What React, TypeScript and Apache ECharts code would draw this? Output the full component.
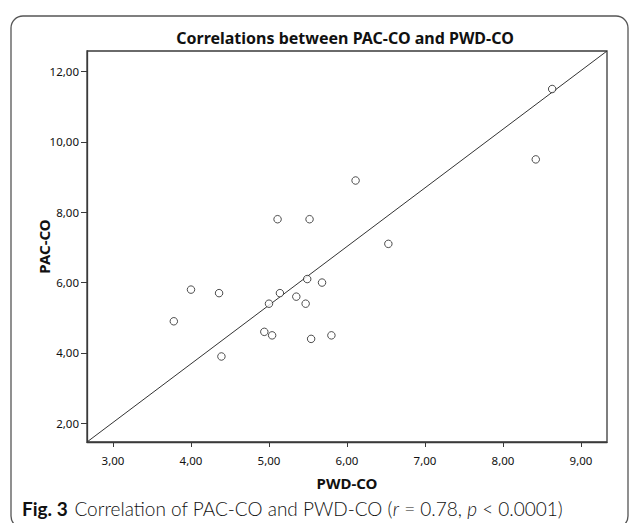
import React, { useEffect, useRef } from "react";
import * as echarts from "echarts";

const pwdCo = [5.11, 5.52, 6.53, 5.49, 5.68, 4.0, 4.36, 5.14, 5.35, 5.0, 5.47, 3.78, 4.94, 5.04, 5.54, 5.8, 4.39, 8.63, 8.42, 6.11];
const pacCo = [7.8, 7.8, 7.1, 6.1, 6.0, 5.8, 5.7, 5.7, 5.6, 5.4, 5.4, 4.9, 4.6, 4.5, 4.4, 4.5, 3.9, 11.5, 9.5, 8.9];
const xTicks = [3, 4, 5, 6, 7, 8, 9];
const yTicks = [2, 4, 6, 8, 10, 12];
const xRange = [2.667, 9.333];
const yRange = [1.47, 12.58];

const fmt = (v: number) => v.toFixed(2).replace(".", ",");

export default function App() {
  const ref = useRef<HTMLDivElement>(null);
  useEffect(() => {
    document.body.style.margin = "0";
    const chart = echarts.init(ref.current!, null, { renderer: "svg" });
    const points = pwdCo.map((x, i) => [x, pacCo[i]]);
    chart.setOption({
      animation: false,
      backgroundColor: "#fff",
      grid: {
        left: 87,
        right: 25,
        top: 51,
        bottom: 81,
        show: true,
        borderColor: "#3a3a3a",
        borderWidth: 1.3,
        backgroundColor: "#fff",
      },
      xAxis: {
        type: "value",
        min: xRange[0],
        max: xRange[1],
        name: "PWD-CO",
        nameLocation: "middle",
        nameGap: 33,
        nameTextStyle: { fontFamily: "Noto Sans", fontWeight: "bold", fontSize: 15, color: "#111" },
        splitLine: { show: false },
        axisLine: { show: true, lineStyle: { color: "#3a3a3a", width: 1.3 } },
        axisTick: { show: true, length: 5, customValues: xTicks, lineStyle: { color: "#3a3a3a" } },
        axisLabel: {
          customValues: xTicks,
          formatter: (v: number) => fmt(v),
          margin: 12,
          fontFamily: "Noto Sans",
          fontSize: 11.5,
          color: "#111",
        },
      },
      yAxis: {
        type: "value",
        min: yRange[0],
        max: yRange[1],
        name: "PAC-CO",
        nameLocation: "middle",
        nameGap: 36,
        nameMoveOverlap: false,
        nameTextStyle: { fontFamily: "Noto Sans", fontWeight: "bold", fontSize: 15, color: "#111" },
        splitLine: { show: false },
        axisLine: { show: true, lineStyle: { color: "#3a3a3a", width: 1.3 } },
        axisTick: { show: true, length: 6, customValues: yTicks, lineStyle: { color: "#3a3a3a" } },
        axisLabel: {
          customValues: yTicks,
          formatter: (v: number) => fmt(v),
          margin: 8,
          fontFamily: "Noto Sans",
          fontSize: 11.5,
          color: "#111",
        },
      },
      series: [
        {
          type: "line",
          data: [
            [xRange[0], yRange[0]],
            [xRange[1], yRange[1]],
          ],
          symbol: "none",
          lineStyle: { color: "#333", width: 1 },
          silent: true,
          z: 1,
        },
        {
          type: "scatter",
          data: points,
          symbol: "circle",
          symbolSize: 7.5,
          itemStyle: { color: "#fff", borderColor: "#222", borderWidth: 1 },
          z: 3,
        },
      ],
      graphic: [
        {
          type: "rect",
          shape: { x: 11, y: 16, width: 617, height: 512, r: 12 },
          style: { fill: "none", stroke: "#555", lineWidth: 1.3 },
          z: -10,
          silent: true,
        },
        {
          type: "text",
          x: 345,
          y: 38,
          style: {
            text: "Correlations between PAC-CO and PWD-CO",
            fontFamily: "Noto Sans",
            fontWeight: "bold",
            fontSize: 16,
            fill: "#111",
            textAlign: "center",
            textVerticalAlign: "middle",
          },
        },
        {
          type: "text",
          x: 22,
          y: 508,
          style: {
            text: "{b|Fig. 3}  {n|Correlation of PAC-CO and PWD-CO (}{i|r}{n| = 0.78, }{i|p}{n| < 0.0001)}",
            textAlign: "left",
            textVerticalAlign: "middle",
            rich: {
              b: { fontFamily: "Lato", fontWeight: "bold", fontSize: 19, fill: "#111" },
              n: { fontFamily: "Lato", fontWeight: 300, fontSize: 19, fill: "#111" },
              i: { fontFamily: "Lato", fontStyle: "italic", fontWeight: 300, fontSize: 19, fill: "#111" },
            },
          },
        },
      ],
    });
    return () => chart.dispose();
  }, []);
  return <div ref={ref} style={{ position: "absolute", left: 0, top: 0, width: 632, height: 523 }} />;
}
